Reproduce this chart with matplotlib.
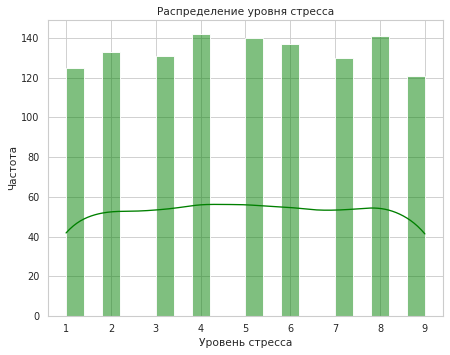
import matplotlib
matplotlib.use("Agg")
import matplotlib.pyplot as plt
import seaborn as sns
import numpy as np

# stress level -> number of respondents
levels = [1, 2, 3, 4, 5, 6, 7, 8, 9]
counts = [125, 133, 131, 142, 140, 137, 130, 141, 121]

stress = np.repeat(levels, counts)

sns.set_theme(style="whitegrid")

fig, ax = plt.subplots(figsize=(450 / 64, 355 / 64), dpi=64)
sns.histplot(stress, bins=20, kde=True, color="green", ax=ax)
ax.set_title("Распределение уровня стресса")
ax.set_xlabel("Уровень стресса")
ax.set_ylabel("Частота")

plt.subplots_adjust(left=0.107, right=0.984, top=0.944, bottom=0.110)
plt.savefig("out.png", dpi=64)
